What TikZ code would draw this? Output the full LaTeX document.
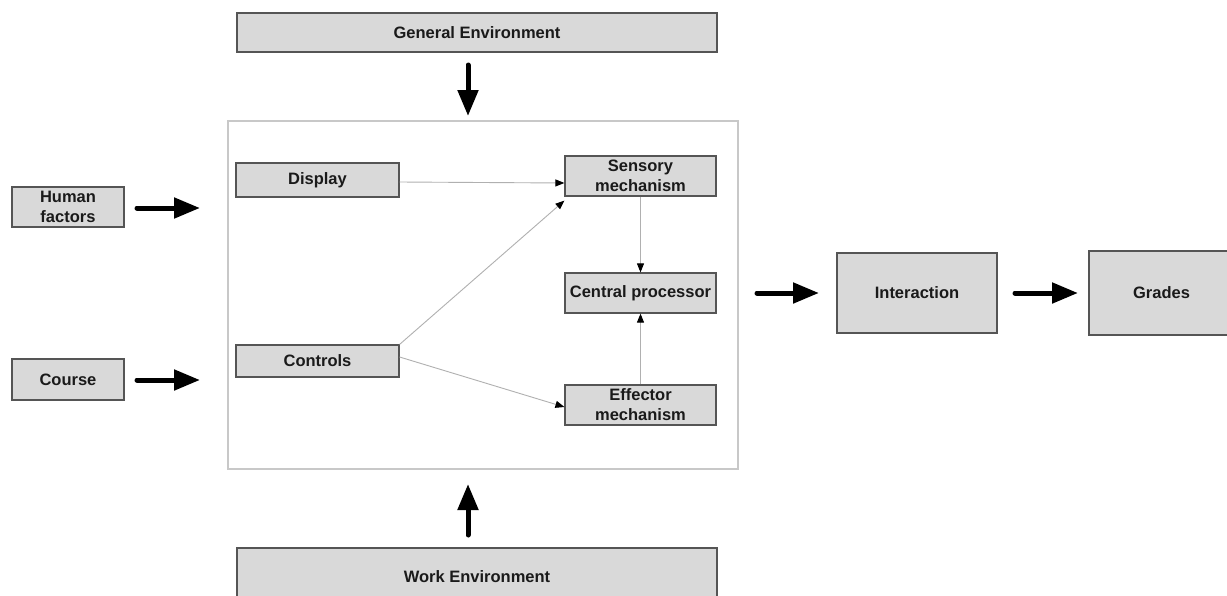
\documentclass[tikz,border=0pt]{standalone}
\usepackage{fontspec}
\setmainfont{Liberation Sans}
\usetikzlibrary{arrows.meta}
\definecolor{boxfill}{HTML}{D9D9D9}
\definecolor{boxdraw}{HTML}{555555}
\definecolor{framedraw}{HTML}{C8C8C8}
\definecolor{thinline}{HTML}{B0B0B0}
\definecolor{txt}{HTML}{1A1A1A}
\tikzset{
  gbox/.style={draw=boxdraw, fill=boxfill, line width=1.2pt, inner sep=0pt, align=center,
     font=\fontsize{16.5}{20}\selectfont\bfseries, text=txt},
  sysframe/.style={draw=framedraw, line width=1.2pt, fill=white, inner sep=0pt},
  heavy/.style={line width=5pt, line cap=round, black, -{Triangle[length=26pt,width=20pt]}},
  thin/.style={draw=thinline, line width=0.9pt, -{Triangle[length=9pt,width=7pt,color=black]}},
}
\begin{document}
\begin{tikzpicture}[x=1pt,y=-1pt]
\useasboundingbox (0,0) rectangle (1227,595);
\clip (0,0) rectangle (1227,595);
% frame
\node[sysframe, minimum width=510pt, minimum height=348pt] (sys) at (483,295) {};
% outer boxes
\node[gbox, minimum width=480pt, minimum height=39pt] (genv) at (477,32.5) {General Environment};
\node[gbox, minimum width=480pt, minimum height=58pt] (wenv) at (477,577) {Work Environment};
\node[gbox, minimum width=112pt, minimum height=40pt] (hf) at (68,207) {Human\\factors};
\node[gbox, minimum width=112pt, minimum height=41pt] (course) at (68,379.5) {Course};
\node[gbox, minimum width=160pt, minimum height=80pt] (inter) at (917,293) {Interaction};
\node[gbox, minimum width=145pt, minimum height=84pt] (grades) at (1161.5,293) {Grades};
% inner boxes
\node[gbox, minimum width=163pt, minimum height=34pt] (disp) at (317.5,180) {Display};
\node[gbox, minimum width=163pt, minimum height=32pt] (ctrl) at (317.5,361) {Controls};
\node[gbox, minimum width=151pt, minimum height=40pt] (sens) at (640.5,176) {Sensory\\mechanism};
\node[gbox, minimum width=151pt, minimum height=40pt] (cpu) at (640.5,293) {Central processor};
\node[gbox, minimum width=151pt, minimum height=40pt] (eff) at (640.5,405) {Effector\\mechanism};
% thin connectors
\draw[thin] (disp.east |- 0,182) -- (sens.west |- 0,183);
\draw[thin] (ctrl.north east) -- ([yshift=-4pt]sens.south west);
\draw[thin] ([yshift=4pt]ctrl.east) -- ([yshift=-2pt]eff.west);
\draw[thin] (sens.south) -- (cpu.north);
\draw[thin] (eff.north) -- (cpu.south);
% heavy arrows (free ends)
\coordinate (hfA) at (137,208); \coordinate (hfB) at (200,208);
\coordinate (coA) at (137,380); \coordinate (coB) at (200,380);
\coordinate (dnA) at (468,65);  \coordinate (dnB) at (468,116);
\coordinate (upA) at (468,535); \coordinate (upB) at (468,484);
\coordinate (inA) at (757,293); \coordinate (inB) at (819,293);
\coordinate (grA) at (1015,293); \coordinate (grB) at (1078,293);
\draw[heavy] (hfA) -- (hfB);
\draw[heavy] (coA) -- (coB);
\draw[heavy] (dnA) -- (dnB);
\draw[heavy] (upA) -- (upB);
\draw[heavy] (inA) -- (inB);
\draw[heavy] (grA) -- (grB);
\end{tikzpicture}
\end{document}
